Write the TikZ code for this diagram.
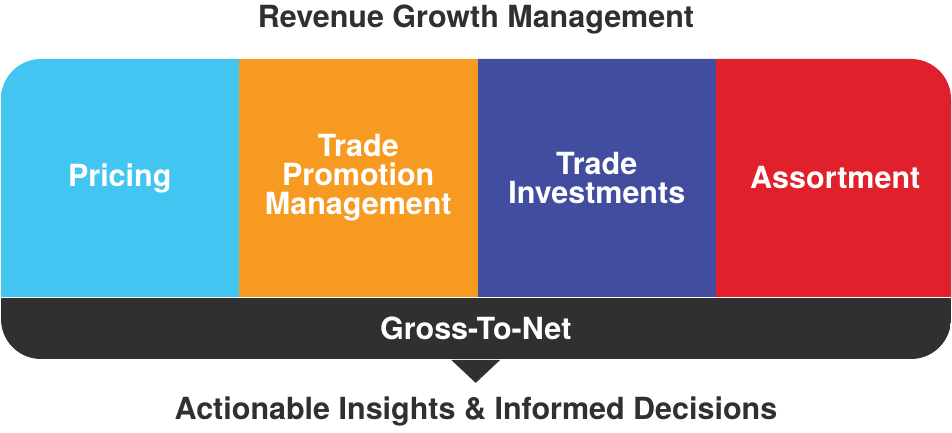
\documentclass[tikz,border=0pt]{standalone}
\usepackage{fontspec}
\setmainfont{TeX Gyre Heros}
\usetikzlibrary{positioning}
\definecolor{rgmblue}{HTML}{42C5F0}
\definecolor{rgmorange}{HTML}{F79A22}
\definecolor{rgmnavy}{HTML}{434DA0}
\definecolor{rgmred}{HTML}{E0202A}
\definecolor{rgmdark}{HTML}{303030}
\tikzstyle{column} = [rectangle, inner sep=0pt, line width=1pt, minimum width=237.5pt, minimum height=238pt, text=white, align=center, font=\fontsize{30.5}{29}\selectfont\bfseries]
\tikzstyle{bar} = [rectangle, inner sep=0pt, minimum width=950pt, minimum height=62pt, fill=rgmdark, text=white, font=\fontsize{30.5}{29}\selectfont\bfseries]
\tikzstyle{caption} = [text=rgmdark, font=\fontsize{30.5}{29}\selectfont\bfseries]

\begin{document}
\begin{tikzpicture}[x=1pt, y=1pt]
    \useasboundingbox (0,0) rectangle (952,433);
    \node [caption] (title) at (476,413) {Revenue Growth Management};
    \begin{scope}
    \clip [rounded corners=40pt] (1,74) rectangle (951,374);
    \node [column, fill=rgmblue, draw=rgmblue] (pricing) at (119.75,255) {Pricing};
    \node [column, fill=rgmorange, draw=rgmorange, right=0pt of pricing] (promo) {Trade\\Promotion\\Management};
    \node [column, fill=rgmnavy, draw=rgmnavy, right=0pt of promo] (invest) {Trade\\Investments};
    \node [column, fill=rgmred, draw=rgmred, right=0pt of invest] (assort) {Assortment};
    \node [bar, below=0pt of pricing.south west, anchor=north west] (gtn) {Gross-To-Net};
    \end{scope}
    \fill [rgmdark] ([xshift=-24.5pt]gtn.south) -- ([yshift=-23pt]gtn.south) -- ([xshift=24.5pt]gtn.south) -- cycle;
    \node [caption] (insights) at (476,22) {Actionable Insights \& Informed Decisions};
\end{tikzpicture}
\end{document}
